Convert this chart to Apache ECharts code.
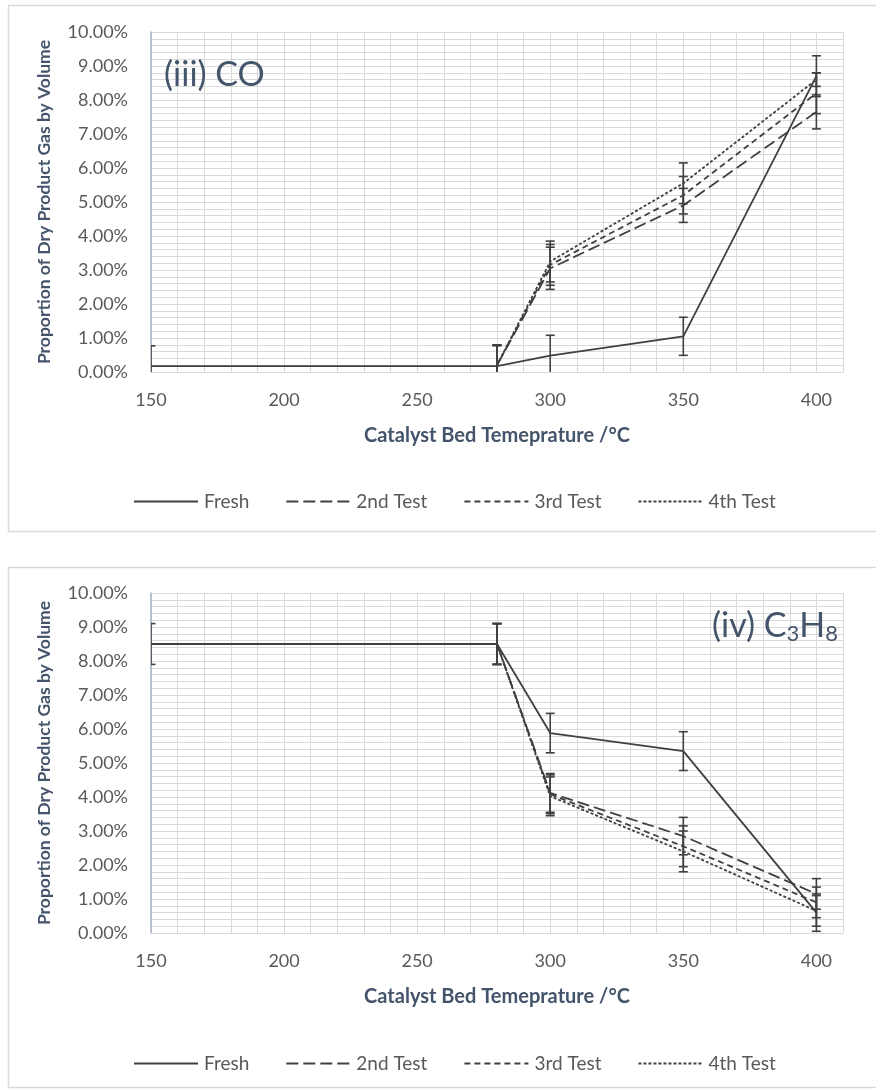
<!DOCTYPE html>
<html>
<head>
<meta charset="utf-8">
<script src="https://cdn.jsdelivr.net/npm/echarts@6/dist/echarts.min.js"></script>
<style>
html,body{margin:0;padding:0;background:#fff;}
#c{width:876px;height:1090px;}
</style>
</head>
<body>
<div id="c"></div>
<script>
// ---- data ----
const temps = [150, 280, 300, 350, 400];
const seriesNames = ['Fresh', '2nd Test', '3rd Test', '4th Test'];
const xTicks = [150, 200, 250, 300, 350, 400];

// (iii) CO, % of dry product gas
const coFresh    = [0.17, 0.17, 0.48, 1.05, 8.70];
const coFreshErr = [0.60, 0.60, 0.60, 0.56, 0.60];
const co2nd      = [null, 0.20, 3.05, 4.90, 7.65];
const co2ndErr   = [null, 0.60, 0.62, 0.50, 0.50];
const co3rd      = [null, 0.20, 3.15, 5.20, 8.20];
const co3rdErr   = [null, 0.60, 0.60, 0.55, 0.60];
const co4th      = [null, 0.20, 3.25, 5.55, 8.60];
const co4thErr   = [null, 0.60, 0.60, 0.60, 0.20];

// (iv) C3H8, % of dry product gas
const c3Fresh    = [8.50, 8.50, 5.88, 5.35, 0.60];
const c3FreshErr = [0.60, 0.60, 0.58, 0.57, 0.55];
const c32nd      = [null, 8.50, 4.12, 2.85, 1.15];
const c32ndErr   = [null, 0.60, 0.57, 0.55, 0.45];
const c33rd      = [null, 8.50, 4.08, 2.55, 0.90];
const c33rdErr   = [null, 0.60, 0.57, 0.60, 0.45];
const c34th      = [null, 8.50, 4.02, 2.40, 0.65];
const c34thErr   = [null, 0.60, 0.57, 0.60, 0.45];

// ---- style ----
const FONT = 'Lato, "Open Sans", sans-serif';
const LINE = '#404040';
const TXT = '#595959';
const TITLE = '#44546A';
const GRIDC = '#D9D9D9';
const dashTypes = ['solid', [12, 5], [6, 4], [3, 2]];

function pts(vals) {
  const out = [];
  vals.forEach((v, i) => { if (v !== null) out.push([temps[i], v]); });
  return out;
}
function errs(vals, e) {
  const out = [];
  vals.forEach((v, i) => { if (v !== null) out.push([temps[i], v - e[i], v + e[i]]); });
  return out;
}
function renderErr(params, api) {
  const x = api.value(0), lo = api.value(1), hi = api.value(2);
  const p1 = api.coord([x, hi]);
  const p2 = api.coord([x, lo]);
  const w = 4.5;
  const st = { stroke: LINE, lineWidth: 1.6 };
  return {
    type: 'group',
    children: [
      { type: 'line', shape: { x1: p1[0], y1: p1[1], x2: p2[0], y2: p2[1] }, style: st },
      { type: 'line', shape: { x1: p1[0] - w, y1: p1[1], x2: p1[0] + w, y2: p1[1] }, style: st },
      { type: 'line', shape: { x1: p2[0] - w, y1: p2[1], x2: p2[0] + w, y2: p2[1] }, style: st }
    ]
  };
}

const grids = [
  { left: 151, top: 32, width: 692, height: 340 },
  { left: 151, top: 593, width: 692, height: 340 }
];

function xAxisFor(i) {
  return {
    type: 'value', gridIndex: i, min: 150, max: 410, interval: 10,
    axisLine: { show: true, lineStyle: { color: GRIDC, width: 1 } },
    axisTick: { show: false },
    axisLabel: {
      color: TXT, fontFamily: FONT, fontSize: 18, margin: 19,
      formatter: v => (xTicks.indexOf(v) >= 0 ? String(v) : '')
    },
    splitLine: { show: true, lineStyle: { color: GRIDC, width: 1 } }
  };
}
function yAxisFor(i) {
  return {
    type: 'value', gridIndex: i, min: 0, max: 10, interval: 1,
    axisLine: { show: true, lineStyle: { color: '#A9B4C2', width: 1.5 } },
    axisTick: { show: false },
    axisLabel: {
      color: TXT, fontFamily: FONT, fontSize: 18, margin: 23,
      formatter: v => v.toFixed(2) + '%'
    },
    splitLine: { show: true, lineStyle: { color: GRIDC, width: 1 } },
    minorTick: { show: false, splitNumber: 5 },
    minorSplitLine: { show: true, lineStyle: { color: GRIDC, width: 1 } }
  };
}

const groups = [
  { vals: [coFresh, co2nd, co3rd, co4th], errs: [coFreshErr, co2ndErr, co3rdErr, co4thErr] },
  { vals: [c3Fresh, c32nd, c33rd, c34th], errs: [c3FreshErr, c32ndErr, c33rdErr, c34thErr] }
];

const series = [];
groups.forEach((g, gi) => {
  g.vals.forEach((v, si) => {
    series.push({
      type: 'custom', name: seriesNames[si] + '_err' + gi,
      xAxisIndex: gi, yAxisIndex: gi, clip: true, silent: true,
      renderItem: renderErr, encode: { x: 0, y: [1, 2] },
      data: errs(v, g.errs[si]), z: 3
    });
  });
  g.vals.forEach((v, si) => {
    series.push({
      type: 'line', name: seriesNames[si],
      xAxisIndex: gi, yAxisIndex: gi, symbol: 'none', clip: true,
      lineStyle: { color: LINE, width: 1.8, type: dashTypes[si] },
      itemStyle: { color: LINE },
      data: pts(v), z: 4, animation: false
    });
  });
});

function legendFor(top) {
  return {
    top: top, left: 128, orient: 'horizontal',
    data: seriesNames, itemWidth: 64, itemHeight: 14, itemGap: 36,
    itemStyle: { color: 'rgba(0,0,0,0)', borderWidth: 0, opacity: 0 },
    lineStyle: { width: 2 },
    textStyle: { color: TXT, fontFamily: FONT, fontSize: 19, padding: [0, 0, 0, 1] },
    selectedMode: false
  };
}

const chart = echarts.init(document.getElementById('c'), null, { renderer: 'canvas' });
chart.setOption({
  animation: false,
  backgroundColor: '#fff',
  grid: grids,
  xAxis: [xAxisFor(0), xAxisFor(1)],
  yAxis: [yAxisFor(0), yAxisFor(1)],
  legend: [legendFor(487), legendFor(1049)],
  series: series,
  graphic: [
    { type: 'rect', shape: { x: 8.5, y: 5.5, width: 900, height: 526 }, style: { fill: 'none', stroke: GRIDC, lineWidth: 1.5 }, z: -10, silent: true },
    { type: 'rect', shape: { x: 8.5, y: 567.5, width: 900, height: 520 }, style: { fill: 'none', stroke: GRIDC, lineWidth: 1.5 }, z: -10, silent: true },
    { type: 'text', x: 44, y: 202, rotation: Math.PI / 2, style: { text: 'Proportion of Dry Product Gas by Volume', fill: TITLE, font: 'bold 17.5px ' + FONT, align: 'center', verticalAlign: 'middle' } },
    { type: 'text', x: 44, y: 763, rotation: Math.PI / 2, style: { text: 'Proportion of Dry Product Gas by Volume', fill: TITLE, font: 'bold 17.5px ' + FONT, align: 'center', verticalAlign: 'middle' } },
    { type: 'text', x: 497, y: 436, style: { text: 'Catalyst Bed Temeprature /°C', fill: TITLE, font: 'bold 20px ' + FONT, align: 'center', verticalAlign: 'middle' } },
    { type: 'text', x: 497, y: 997, style: { text: 'Catalyst Bed Temeprature /°C', fill: TITLE, font: 'bold 20px ' + FONT, align: 'center', verticalAlign: 'middle' } },
    { type: 'text', x: 164, y: 75, z: 10, style: { text: '(iii) CO', fill: TITLE, font: '34px ' + FONT, align: 'left', verticalAlign: 'middle' } },
    { type: 'text', x: 838, y: 626, z: 10, style: {
        text: '(iv) C{s|3}H{s|8}', fill: TITLE, font: '34px ' + FONT, align: 'right', verticalAlign: 'middle',
        rich: { s: { fontSize: 22, fontFamily: FONT, fill: TITLE, verticalAlign: 'bottom', padding: [16, 0, 0, 0] } }
      } }
  ]
});
</script>
</body>
</html>
